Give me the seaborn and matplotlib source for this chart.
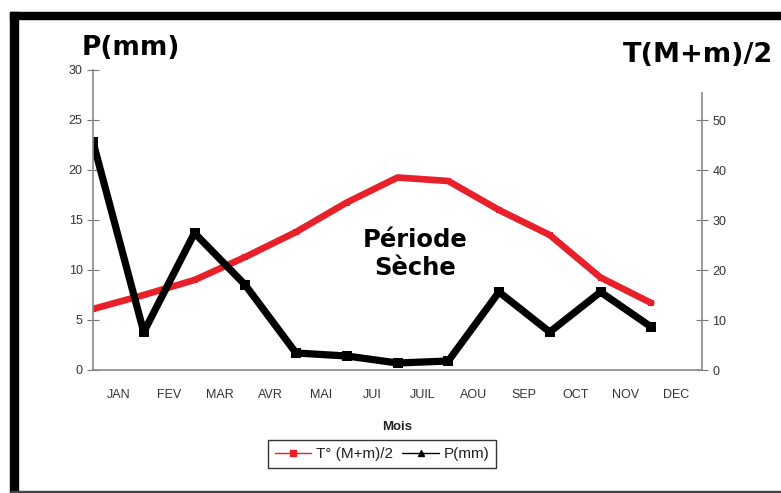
import matplotlib
matplotlib.use('Agg')
import matplotlib.pyplot as plt
import seaborn as sns
import pandas as pd
from matplotlib.lines import Line2D
from matplotlib.patches import Rectangle

months = ['JAN', 'FEV', 'MAR', 'AVR', 'MAI', 'JUI', 'JUIL', 'AOU', 'SEP', 'OCT', 'NOV', 'DEC']
precip = [22.8, 3.8, 13.7, 8.5, 1.7, 1.4, 0.7, 0.9, 7.8, 3.8, 7.8, 4.3]
temp = [12.2, 15.0, 18.0, 22.6, 27.6, 33.5, 38.5, 37.8, 32.0, 27.0, 18.5, 13.4]

df = pd.DataFrame({'pos': range(len(months)), 'Mois': months, 'P': precip, 'T': temp})

sns.set_style('white')
plt.rcParams['font.family'] = ['Liberation Sans', 'DejaVu Sans']
plt.rcParams['text.color'] = 'black'
plt.rcParams['axes.labelcolor'] = 'black'

fig = plt.figure(figsize=(7.81, 4.93), dpi=100)
ax = fig.add_axes([93/781, 1-370/493, (702-93)/781, 300/493])
ax2 = ax.twinx()

sns.lineplot(data=df, x='pos', y='T', ax=ax2, color='#e8202a', linewidth=4.8,
             marker='s', markersize=5, markeredgewidth=0)
sns.lineplot(data=df, x='pos', y='P', ax=ax, color='black', linewidth=5.2,
             marker='s', markersize=7.5, markeredgewidth=0)
ax.set_zorder(ax2.get_zorder() + 1)
ax.patch.set_visible(False)

ax.set_xlim(0, 12)
ax.set_ylim(0, 30)
ax2.set_ylim(0, 60)
ax.set_yticks(range(0, 31, 5))
ax2.set_yticks(range(0, 51, 10))
ax.set_xticks(range(1, 12))
ax.set_xticklabels([])
ax.set_xticks([i + 0.5 for i in range(12)], minor=True)
ax.set_xticklabels(months, minor=True)
ax.tick_params(axis='x', which='minor', length=0, pad=14, labelsize=9, labelcolor='#333333')
ax.tick_params(axis='x', which='major', direction='inout', length=8, color='#777777')
ax.tick_params(axis='y', direction='inout', length=8, color='#777777', labelsize=9, labelcolor='#333333')
ax2.tick_params(axis='y', direction='inout', length=8, color='#777777', labelsize=9, labelcolor='#333333')

for a in (ax, ax2):
    a.spines['top'].set_visible(False)
    for s in ('left', 'right', 'bottom'):
        a.spines[s].set_color('#888888')
        a.spines[s].set_linewidth(1.2)
ax.spines['right'].set_visible(False)
ax2.spines['left'].set_visible(False)
ax2.spines['bottom'].set_visible(False)
ax2.spines['right'].set_bounds(0, 55.5)

ax.set_xlabel('Mois', fontsize=9.5, fontweight='bold', labelpad=14, color='#222222')
ax.set_ylabel('')
ax2.set_ylabel('')

fig.text(82/781, 1-48/493, 'P(mm)', fontsize=19, fontweight='bold', ha='left', va='center',
         family='DejaVu Sans', color='black')
fig.text(773/781, 1-55/493, 'T(M+m)/2', fontsize=19.5, fontweight='bold', ha='right', va='center',
         family='DejaVu Sans', color='black')
ax.text(6.35, 11.6, 'Période\nSèche', fontsize=17.5, fontweight='bold', ha='center', va='center',
        linespacing=1.25, family='DejaVu Sans', color='black')

handles = [Line2D([], [], color='#e8202a', lw=1, marker='s', markersize=4.5),
           Line2D([], [], color='black', lw=1, marker='^', markersize=4.5)]
leg = fig.legend(handles, ['T° (M+m)/2', 'P(mm)'], loc='center', bbox_to_anchor=(382/781, 1-454/493),
                 ncol=2, frameon=True, fancybox=False, edgecolor='black', fontsize=11,
                 handlelength=2.4, handletextpad=0.3, columnspacing=0.6, borderpad=0.45)
for t in leg.get_texts():
    t.set_color('#222222')

# black frame around the chart
fig.patches.append(Rectangle((10/781, 1-19/493), 771/781, 7/493, transform=fig.transFigure,
                             color='black', zorder=0))
fig.patches.append(Rectangle((10/781, 0), 8/781, 1-12/493, transform=fig.transFigure,
                             color='black', zorder=0))
fig.patches.append(Rectangle((10/781, 0), 771/781, 2/493, transform=fig.transFigure,
                             color='#444444', zorder=0))

plt.savefig('out.png', dpi=100)
